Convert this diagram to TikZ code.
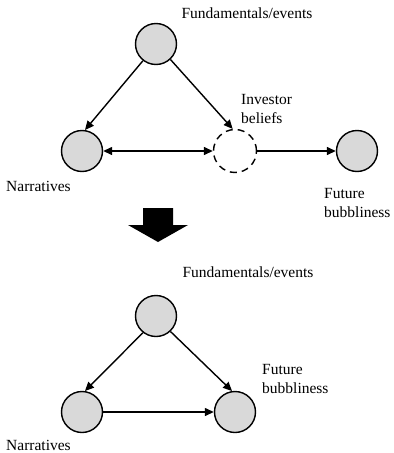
\documentclass[tikz,border=0pt]{standalone}
\usepackage{fontspec}
\setmainfont{Liberation Serif}
\usetikzlibrary{arrows.meta}
\definecolor{nodegray}{RGB}{217,217,217}
\tikzset{
  var/.style={circle,draw=black,line width=1.4pt,fill=nodegray,minimum size=41pt,inner sep=0pt},
  latent/.style={circle,draw=black,line width=1.4pt,dash pattern=on 7pt off 5pt,minimum size=43pt,inner sep=0pt},
  lbl/.style={font=\fontsize{15.5}{18.5}\selectfont,inner sep=0pt,align=left},
  conn/.style={line width=1.4pt,-{Triangle[length=9pt,width=8pt]}},
  biconn/.style={line width=1.4pt,{Triangle[length=9pt,width=8pt]}-{Triangle[length=9pt,width=8pt]}}
}
\begin{document}
\begin{tikzpicture}[x=1pt,y=-1pt]
\useasboundingbox (0,0) rectangle (394,453);
% top diagram
\node[var] (f1) at (156,44) {};
\node[var] (n1) at (82,151) {};
\node[latent] (b1) at (235,151) {};
\node[var] (u1) at (357,151) {};
\node[lbl] (f1l) at (247,13) {Fundamentals/events};
\node[lbl,anchor=west] (b1l) at (241,109) {Investor\\beliefs};
\node[lbl,anchor=west] (n1l) at (6,186) {Narratives};
\node[lbl,anchor=west] (u1l) at (324,203) {Future\\bubbliness};
\draw[conn] (f1.232) -- (n1.82);
\draw[conn] (f1.313) -- (b1.96);
\draw[biconn] (n1.east) -- (b1.west);
\draw[conn] (b1.east) -- (u1.west);
% block arrow
\fill (143,208) -- (173,208) -- (173,225) -- (188,225) -- (158,242) -- (128,225) -- (143,225) -- cycle;
% bottom diagram
\node[var] (f2) at (156,316) {};
\node[var] (n2) at (82,412) {};
\node[var] (u2) at (235,412) {};
\node[lbl] (f2l) at (248,272) {Fundamentals/events};
\node[lbl,anchor=west] (u2l) at (262,379) {Future\\bubbliness};
\node[lbl,anchor=west] (n2l) at (6,445) {Narratives};
\draw[conn] (f2.232) -- (n2.82);
\draw[conn] (f2.313) -- (u2.98);
\draw[conn] (n2.east) -- (u2.west);
\end{tikzpicture}
\end{document}
